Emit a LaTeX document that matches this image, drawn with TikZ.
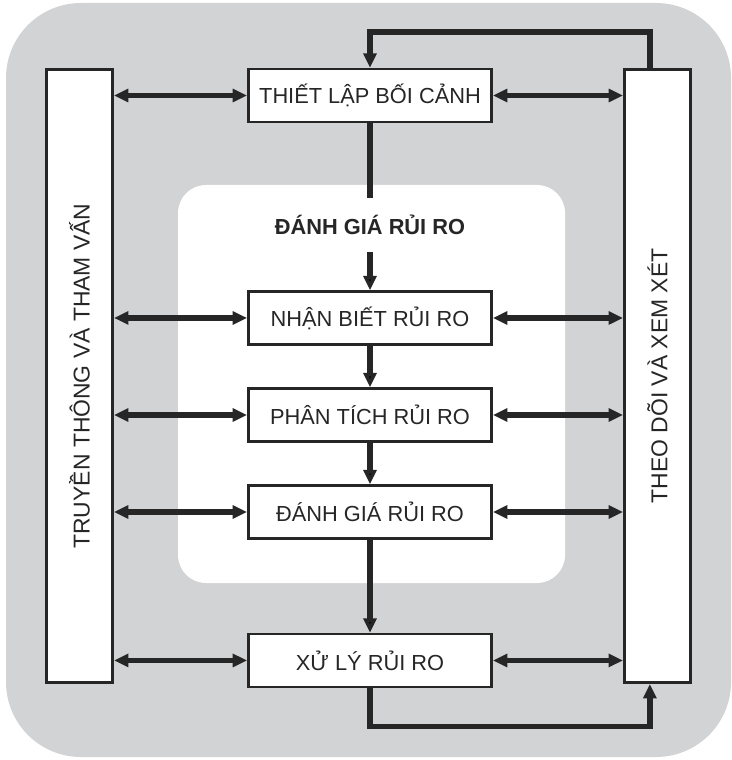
\documentclass[tikz,border=0pt]{standalone}
\usepackage{fontspec}
\setmainfont{Liberation Sans}
\usetikzlibrary{positioning,arrows.meta}
\definecolor{panelgray}{HTML}{D1D3D4}
\definecolor{ink}{HTML}{262626}

\begin{document}
\begin{tikzpicture}[x=0.025cm, y=-0.025cm, node distance=1.04cm,
    font=\fontsize{15.5}{18}\selectfont, text=ink,
    box/.style={draw=ink, fill=white, line width=0.065cm, minimum width=6.08cm, minimum height=1.32cm},
    bar/.style={draw=ink, fill=white, line width=0.065cm, rotate=90, minimum width=15.33cm, minimum height=1.66cm,
      font=\fontsize{16.3}{19}\selectfont},
    conn/.style={draw=ink, line width=0.13cm},
    tip/.style={-{Triangle[length=0.36cm,width=0.32cm]}},
    dbl/.style={{Triangle[length=0.36cm,width=0.32cm]}-{Triangle[length=0.36cm,width=0.32cm]}}]
  \useasboundingbox (0,0) rectangle (731,760);
  % panels
  \fill[panelgray, rounded corners=1.875cm] (6,3) rectangle (731,757);
  \fill[white, rounded corners=0.7cm] (178,185) rectangle (565,583);

  % main column
  \node[box] (ctx) at (370,95.5) {THIẾT LẬP BỐI CẢNH};
  \node[box] (iden) [below=4.175cm of ctx] {NHẬN BIẾT RỦI RO};
  \node[box] (anal) [below=of iden] {PHÂN TÍCH RỦI RO};
  \node[box] (eval) [below=of anal] {ĐÁNH GIÁ RỦI RO};
  \node[box] (treat) [below=2.325cm of eval] {XỬ LÝ RỦI RO};
  \node[font=\fontsize{15.5}{18}\selectfont\bfseries, inner sep=0, minimum height=1.325cm] (ra) at (370,225) {ĐÁNH GIÁ RỦI RO};

  % side bars (rotated: south = right edge, north = left edge, east = top, west = bottom)
  \node[bar] (comm) at (79.5,376) {TRUYỀN THÔNG VÀ THAM VẤN};
  \node[bar] (mon) at (657.5,376) {THEO DÕI VÀ XEM XÉT};

  \path[conn]
    (ctx) -- (ra);
  \path[conn, tip]
    (ra) edge (iden)
    (iden) edge (anal)
    (anal) edge (eval)
    (eval) edge (treat);
  \foreach \n in {ctx,iden,anal,eval,treat} {
    \draw[conn, dbl] (\n.west) -- (\n.west -| comm.south);
    \draw[conn, dbl] (\n.east) -- (\n.east -| mon.north);
  }
  % feedback loops
  \draw[conn, tip] ([xshift=-0.19cm]mon.east) -- ++(0,-36) -| (ctx.north);
  \draw[conn, tip] (treat.south) -- ++(0,38) -| ([xshift=-0.19cm]mon.west);
\end{tikzpicture}
\end{document}
